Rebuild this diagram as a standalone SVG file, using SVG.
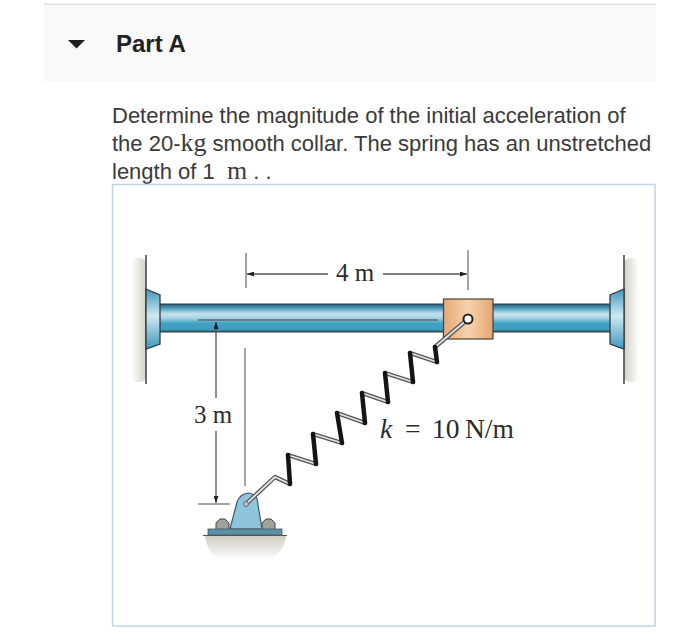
<svg xmlns="http://www.w3.org/2000/svg" width="700" height="643" viewBox="0 0 700 643">
<style>
.s{font-family:"Liberation Sans",Arial,sans-serif}
.f{font-family:"Liberation Serif","Times New Roman",serif}
.b{font-size:22px;fill:#3a3a3a}
.d{font-size:25px;fill:#2b2b2b}
.dim{stroke:#555;stroke-width:1.3;fill:none}
.tick{stroke:#888;stroke-width:1.5;fill:none}
.blk{stroke:#151515;stroke-width:4.500;fill:none;stroke-linecap:round}
.gr1{stroke:#555;stroke-width:4.4;fill:none;stroke-linecap:round;stroke-linejoin:round}
.gr2{stroke:#e4e4e4;stroke-width:1.8;fill:none;stroke-linecap:round;stroke-linejoin:round}
.edge{stroke:#333a40;stroke-width:1.2}
</style>
<defs>
<linearGradient id="rod" x1="0" y1="0" x2="0" y2="1">
<stop offset="0" stop-color="#2e5a70"/><stop offset=".12" stop-color="#3d8fb0"/><stop offset=".35" stop-color="#c5e3ef"/><stop offset=".5" stop-color="#a8d3e4"/><stop offset=".68" stop-color="#44a3c4"/><stop offset=".9" stop-color="#3f9dbe"/><stop offset="1" stop-color="#2e5a70"/>
</linearGradient>
<linearGradient id="fl" x1="0" y1="0" x2="0" y2="1">
<stop offset="0" stop-color="#3d98ba"/><stop offset=".45" stop-color="#cfe8f2"/><stop offset="1" stop-color="#3d98ba"/>
</linearGradient>
<linearGradient id="col" x1="0" y1="0" x2="1" y2="0">
<stop offset="0" stop-color="#e6a873"/><stop offset=".5" stop-color="#f6d3ae"/><stop offset="1" stop-color="#e4a571"/>
</linearGradient>
<linearGradient id="wl" x1="1" y1="0" x2="0" y2="0"><stop offset="0" stop-color="#d2d0c6"/><stop offset="1" stop-color="#fff"/></linearGradient>
<linearGradient id="wr" x1="0" y1="0" x2="1" y2="0"><stop offset="0" stop-color="#d2d0c6"/><stop offset="1" stop-color="#fff"/></linearGradient>
<linearGradient id="gnd" x1="0" y1="0" x2="0" y2="1"><stop offset="0" stop-color="#cfcdc2"/><stop offset="1" stop-color="#fff"/></linearGradient>
<marker id="ah" markerWidth="7" markerHeight="5" refX="7" refY="2.500" orient="auto" markerUnits="userSpaceOnUse"><path d="M0 0L7 2.500L0 5Z" fill="#222"/></marker>
</defs>

<g id="header">
<rect x="44" y="5" width="612" height="77" fill="#f9f9f9"/>
<rect x="44" y="3.500" width="612" height="1.500" fill="#e2e2e2"/>
<path d="M68 40H85L76.500 48.500Z" fill="#1c1c1c"/>
<text class="s" x="116" y="52" font-size="24" font-weight="700" fill="#222">Part A</text>
</g>

<g id="question">
<text class="s b" x="112" y="123">Determine the magnitude of the initial acceleration of</text>
<text class="s b" x="112" y="151">the 20-<tspan class="f" font-size="26">kg</tspan> smooth collar. The spring has an unstretched</text>
<text class="s b" x="112" y="179">length of 1 <tspan class="f" font-size="26" dx="6">m</tspan> . .</text>
</g>

<rect id="frame" x="112.500" y="184.500" width="542.500" height="441.500" fill="#fff" stroke="#c3d2e2" stroke-width="1.500"/>

<g id="walls">
<rect x="131" y="258" width="15" height="124" rx="6" fill="url(#wl)"/>
<rect x="624" y="258" width="15" height="124" rx="6" fill="url(#wr)"/>
<path d="M146 255V384M624 255V384" stroke="#4a4a4a" stroke-width="1.600"/>
</g>

<g id="rod">
<rect x="160" y="304" width="450" height="28" fill="url(#rod)"/>
<path class="edge" d="M160 304H610M160 332H610"/>
</g>

<g id="flanges">
<path d="M146 289L160 295V344L146 349Z" fill="url(#fl)" stroke="#333a40" stroke-width="1.300"/>
<path d="M624 289L610 295V344L624 349Z" fill="url(#fl)" stroke="#333a40" stroke-width="1.300"/>
</g>

<g id="collar">
<rect x="443.500" y="299" width="49.500" height="40" fill="url(#col)" stroke="#4a4038" stroke-width="1.200"/>
</g>

<g id="bracket">
<path d="M205 536H286Q284 552 270 560H220Q207 552 205 536Z" fill="url(#gnd)"/>
<path d="M216 530V523L220 519H225L229 523V530ZM262 530V523L266 519H271L275 523V530Z" fill="#a2a29c" stroke="#444" stroke-width="1"/>
<path d="M230 529L237 502Q240 494 248 493Q258 494 258 505L262 529Z" fill="#8fc4dd" stroke="#3a5a6a" stroke-width="1.200"/>
<rect x="208" y="529" width="74" height="6" fill="#5f8fa2" stroke="#3a5a6a" stroke-width=".8"/>
<path d="M203 535.500H287" stroke="#555" stroke-width="1.200"/>
</g>

<g id="connectors">
<g id="spring">
<path class="gr1" d="M246 504L275 477L290 484M288 455L316 464M313 434L342 443M337 413L365 423M362 393L388 402M385 373L413 382M410 353L437 362M435 347L468 319"/>
<path class="gr2" d="M246 504L275 477L290 484M288 455L316 464M313 434L342 443M337 413L365 423M362 393L388 402M385 373L413 382M410 353L437 362M435 347L468 319"/>
<path class="blk" d="M290 484L288 455M316 464L313 434M342 443L337 413M365 423L362 393M388 402L385 373M413 382L410 353M437 362L435 347"/>
</g>
<path class="dim" d="M198 320H438" stroke-opacity=".8"/>
<path class="dim" d="M216 398V322" marker-end="url(#ah)"/>
<path class="dim" d="M216 431V503" marker-end="url(#ah)"/>
<path class="tick" d="M198 504H230"/>
<path class="tick" d="M245 348V486"/>
<path class="tick" d="M246 253V288M468 250V290"/>
<path class="dim" d="M328 274H247" marker-end="url(#ah)"/>
<path class="dim" d="M383 274H467" marker-end="url(#ah)"/>
</g>

<g id="pin"><circle cx="468" cy="319" r="4.500" fill="#fff" stroke="#222" stroke-width="2"/><circle cx="246" cy="504" r="2.500" fill="#b9c4c8" stroke="#667" stroke-width="1"/></g>

<g id="labels">
<text class="f d" x="336" y="281">4 m</text>
<text class="f d" x="194" y="423">3 m</text>
<text class="f" y="438" font-size="27.500" fill="#2b2b2b"><tspan x="380" font-style="italic">k</tspan><tspan x="405">=</tspan><tspan x="432">10</tspan><tspan x="465">N/m</tspan></text>
</g>
</svg>
